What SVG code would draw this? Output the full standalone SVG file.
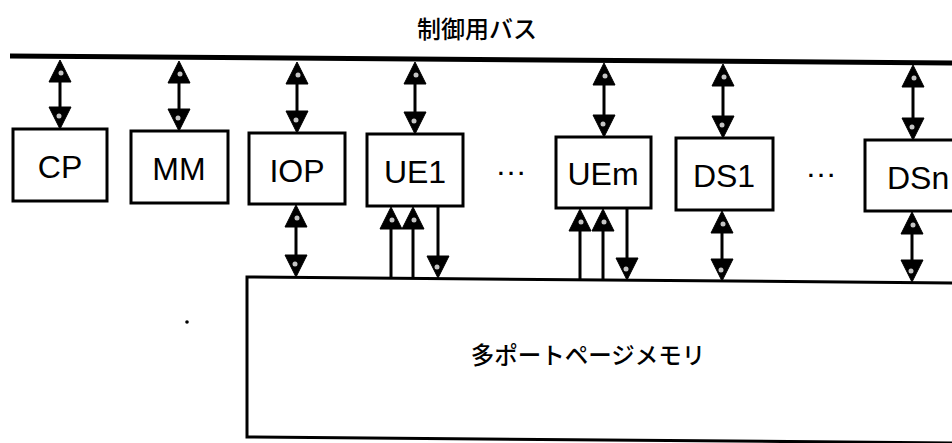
<svg xmlns="http://www.w3.org/2000/svg" width="952" height="443" viewBox="0 0 952 443">
  <style>
    .box { fill: #fff; stroke: #000; stroke-width: 3; }
    .lbl { font-family: "Liberation Sans", Arial, sans-serif; font-size: 32px; fill: #000; text-anchor: middle; }
    .jp { font-family: "Noto Sans CJK JP", "Noto Sans CJK SC", sans-serif; font-weight: 500; fill: #000; text-anchor: middle; }
    .ln { stroke: #000; stroke-width: 3; fill: none; }
    .head polygon { fill: #000; stroke: #000; stroke-width: 1; stroke-linejoin: miter; }
    .spk circle { fill: #c4c4c4; }
  </style>
  <rect width="952" height="443" fill="#fff"/>

  <g id="bus">
    <line x1="10" y1="56" x2="952" y2="63" stroke="#000" stroke-width="5"/>
    <text class="jp" x="477" y="38" font-size="24">制御用バス</text>
  </g>

  <g id="memory">
    <path d="M960,283 L247,277 L247,437 L960,443" class="box"/>
    <text class="jp" x="588" y="364" font-size="23.5">多ポートページメモリ</text>
  </g>

  <g id="CP">
    <rect class="box" x="13" y="129" width="94" height="72"/>
    <text class="lbl" x="60" y="178">CP</text>
  </g>
  <g id="MM">
    <rect class="box" x="131" y="131" width="97" height="72"/>
    <text class="lbl" x="179" y="180">MM</text>
  </g>
  <g id="IOP">
    <rect class="box" x="249" y="133" width="96" height="71"/>
    <text class="lbl" x="297" y="182">IOP</text>
  </g>
  <g id="UE1">
    <rect class="box" x="367" y="134" width="96" height="72"/>
    <text class="lbl" x="415" y="183">UE1</text>
  </g>
  <g id="UEm">
    <rect class="box" x="556" y="137" width="95" height="71"/>
    <text class="lbl" x="603" y="185">UEm</text>
  </g>
  <g id="DS1">
    <rect class="box" x="676" y="138" width="97" height="72"/>
    <text class="lbl" x="724" y="187">DS1</text>
  </g>
  <g id="DSn">
    <rect class="box" x="865" y="140" width="100" height="71"/>
    <text class="lbl" x="887" y="189" style="text-anchor:start">DSn</text>
  </g>

  <g id="ellipses">
    <text class="lbl" x="511" y="175" font-size="28">…</text>
    <text class="lbl" x="821" y="177" font-size="28">…</text>
  </g>

  <circle cx="187" cy="322" r="1.8" fill="#000"/>

  <g id="connectors">
    <g class="lines">
      <line class="ln" x1="60" y1="66" x2="60" y2="124"/>
      <line class="ln" x1="179" y1="67" x2="179" y2="126"/>
      <line class="ln" x1="297" y1="68" x2="297" y2="128"/>
      <line class="ln" x1="415" y1="68" x2="415" y2="129"/>
      <line class="ln" x1="604" y1="69" x2="604" y2="132"/>
      <line class="ln" x1="723" y1="70" x2="723" y2="133"/>
      <line class="ln" x1="913" y1="71" x2="913" y2="135"/>
      <line class="ln" x1="296" y1="211" x2="296" y2="272"/>
      <line class="ln" x1="391" y1="213" x2="391" y2="278"/>
      <line class="ln" x1="413" y1="213" x2="413" y2="278"/>
      <line class="ln" x1="438" y1="206" x2="438" y2="273"/>
      <line class="ln" x1="580" y1="215" x2="580" y2="280"/>
      <line class="ln" x1="603" y1="215" x2="603" y2="280"/>
      <line class="ln" x1="627" y1="208" x2="627" y2="275"/>
      <line class="ln" x1="722" y1="217" x2="722" y2="276"/>
      <line class="ln" x1="912" y1="218" x2="912" y2="277"/>
    </g>
    <g class="head">
      <polygon points="60,60 71,82 49,82"/>
      <polygon points="60,129 71,107 49,107"/>
      <polygon points="179,61 190,83 168,83"/>
      <polygon points="179,131 190,109 168,109"/>
      <polygon points="297,62 308,84 286,84"/>
      <polygon points="297,133 308,111 286,111"/>
      <polygon points="415,62 426,84 404,84"/>
      <polygon points="415,134 426,112 404,112"/>
      <polygon points="604,63 615,85 593,85"/>
      <polygon points="604,137 615,115 593,115"/>
      <polygon points="723,64 734,86 712,86"/>
      <polygon points="723,138 734,116 712,116"/>
      <polygon points="913,65 924,87 902,87"/>
      <polygon points="913,140 924,118 902,118"/>

      <polygon points="296,205 307,227 285,227"/>
      <polygon points="296,277 307,255 285,255"/>
      <polygon points="391,207 402,229 380,229"/>
      <polygon points="413,207 424,229 402,229"/>
      <polygon points="438,278 449,256 427,256"/>
      <polygon points="580,209 591,231 569,231"/>
      <polygon points="603,209 614,231 592,231"/>
      <polygon points="627,280 638,258 616,258"/>
      <polygon points="722,211 733,233 711,233"/>
      <polygon points="722,281 733,259 711,259"/>
      <polygon points="912,212 923,234 901,234"/>
      <polygon points="912,282 923,260 901,260"/>
    </g>
    <g class="spk">
      <circle cx="61" cy="73" r="2.5"/><circle cx="59" cy="116" r="2.5"/>
      <circle cx="180" cy="74" r="2.5"/><circle cx="178" cy="118" r="2.5"/>
      <circle cx="298" cy="75" r="2.5"/><circle cx="296" cy="120" r="2.5"/>
      <circle cx="416" cy="75" r="2.5"/><circle cx="414" cy="121" r="2.5"/>
      <circle cx="605" cy="76" r="2.5"/><circle cx="603" cy="124" r="2.5"/>
      <circle cx="724" cy="77" r="2.5"/><circle cx="722" cy="125" r="2.5"/>
      <circle cx="914" cy="78" r="2.5"/><circle cx="912" cy="127" r="2.5"/>
      <circle cx="297" cy="218" r="2.5"/><circle cx="295" cy="264" r="2.5"/>
      <circle cx="392" cy="220" r="2.5"/><circle cx="414" cy="220" r="2.5"/>
      <circle cx="437" cy="267" r="2.5"/>
      <circle cx="581" cy="222" r="2.5"/><circle cx="604" cy="222" r="2.5"/>
      <circle cx="626" cy="269" r="2.5"/>
      <circle cx="723" cy="224" r="2.5"/><circle cx="721" cy="270" r="2.5"/>
      <circle cx="913" cy="225" r="2.5"/><circle cx="911" cy="271" r="2.5"/>
    </g>
  </g>
</svg>
